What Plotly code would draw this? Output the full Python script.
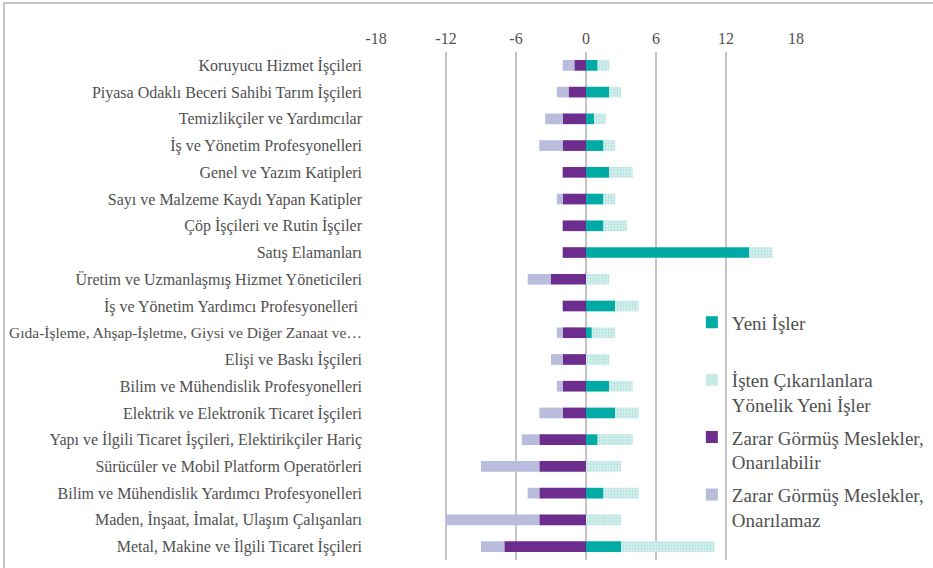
import plotly.graph_objects as go

categories = [
    "Koruyucu Hizmet İşçileri",
    "Piyasa Odaklı Beceri Sahibi Tarım İşçileri",
    "Temizlikçiler ve Yardımcılar",
    "İş ve Yönetim Profesyonelleri",
    "Genel ve Yazım Katipleri",
    "Sayı ve Malzeme Kaydı Yapan Katipler",
    "Çöp İşçileri ve Rutin İşçiler",
    "Satış Elamanları",
    "Üretim ve Uzmanlaşmış Hizmet Yöneticileri",
    "İş ve Yönetim Yardımcı Profesyonelleri ",
    "Gıda-İşleme, Ahşap-İşletme, Giysi ve Diğer Zanaat ve…",
    "Elişi ve Baskı İşçileri",
    "Bilim ve Mühendislik Profesyonelleri",
    "Elektrik ve Elektronik Ticaret İşçileri",
    "Yapı ve İlgili Ticaret İşçileri, Elektirikçiler Hariç",
    "Sürücüler ve Mobil Platform Operatörleri",
    "Bilim ve Mühendislik Yardımcı Profesyonelleri",
    "Maden, İnşaat, İmalat, Ulaşım Çalışanları",
    "Metal, Makine ve İlgili Ticaret İşçileri",
]

yeni_isler = [1, 2, 0.7, 1.5, 2, 1.5, 1.5, 14, 0, 2.5, 0.5, 0, 2, 2.5, 1, 0, 1.5, 0, 3]
isten_cikarilanlara = [1, 1, 1, 1, 2, 1, 2, 2, 2, 2, 2, 2, 2, 2, 3, 3, 3, 3, 8]
onarilabilir = [-1, -1.5, -2, -2, -2, -2, -2, -2, -3, -2, -2, -2, -2, -2, -4, -4, -4, -4, -7]
onarilamaz = [-1, -1, -1.5, -2, 0, -0.5, 0, 0, -2, 0, -0.5, -1, -0.5, -2, -1.5, -5, -1, -8, -2]

x_ticks = [-18, -12, -6, 0, 6, 12, 18]

series_names = [
    "Yeni İşler<br> ",
    "İşten Çıkarılanlara<br>Yönelik Yeni İşler",
    "Zarar Görmüş Meslekler,<br>Onarılabilir",
    "Zarar Görmüş Meslekler,<br>Onarılamaz",
]

TEXT = "#505050"
GRID = "#c3c3c8"
FONT = "'Liberation Serif', 'Times New Roman', serif"

# the truncated label is set slightly tighter so it fits like the reference
y_ticktext = [
    (f"<span style='font-size:15.5px'>{c}</span>" if c.endswith("…") else c) for c in categories
]

fig = go.Figure()
fig.add_trace(go.Bar(y=categories, x=yeni_isler, orientation="h", name=series_names[0],
                     legendgroup="a", marker=dict(color="#00aba5", line=dict(width=0))))
fig.add_trace(go.Bar(y=categories, x=isten_cikarilanlara, orientation="h", name=series_names[1],
                     legendgroup="b",
                     marker=dict(color="#d3efed", line=dict(width=0),
                                 pattern=dict(shape=".", fgcolor="#8ed4d0", bgcolor="#d8f1ef",
                                              size=3, solidity=0.45))))
fig.add_trace(go.Bar(y=categories, x=onarilabilir, orientation="h", name=series_names[2],
                     legendgroup="c", marker=dict(color="#6c2d8f", line=dict(width=0))))
fig.add_trace(go.Bar(y=categories, x=onarilamaz, orientation="h", name=series_names[3],
                     legendgroup="d", marker=dict(color="#b9bcdd", line=dict(width=0))))

fig.update_layout(
    width=933, height=568,
    barmode="relative",
    bargap=0.6,
    paper_bgcolor="white",
    plot_bgcolor="white",
    margin=dict(l=376, r=137, t=52, b=8, autoexpand=False),
    font=dict(family=FONT, color=TEXT, size=16),
    xaxis=dict(range=[-18, 18], tickvals=x_ticks, ticktext=[str(v) for v in x_ticks],
               side="top", showgrid=True, gridcolor=GRID, gridwidth=2, automargin=False,
               zeroline=False, showline=False, ticks="", ticklabelstandoff=4,
               tickfont=dict(size=16, family=FONT, color=TEXT), fixedrange=True),
    yaxis=dict(range=[18.5, -0.5], showgrid=False, zeroline=False, showline=False,
               tickmode="array", tickvals=categories, ticktext=y_ticktext,
               ticks="", ticklabelstandoff=13, automargin=False,
               tickfont=dict(size=16, family=FONT, color=TEXT)),
    legend=dict(x=0.752, y=0.505, xanchor="left", yanchor="top", valign="top",
                traceorder="grouped", tracegroupgap=5, bgcolor="rgba(0,0,0,0)",
                font=dict(size=19, family=FONT, color=TEXT)),
    showlegend=True,
    shapes=[dict(type="rect", xref="paper", yref="paper",
                 x0=(4 - 376) / 420, x1=(945 - 376) / 420,
                 y0=-(580 - 560) / 508, y1=1 + (52 - 3) / 508,
                 line=dict(color=GRID, width=2), fillcolor="rgba(0,0,0,0)", layer="below")],
)

fig.write_html("out.html", config={"displayModeBar": False},
               post_script="document.body.style.margin='0';")
